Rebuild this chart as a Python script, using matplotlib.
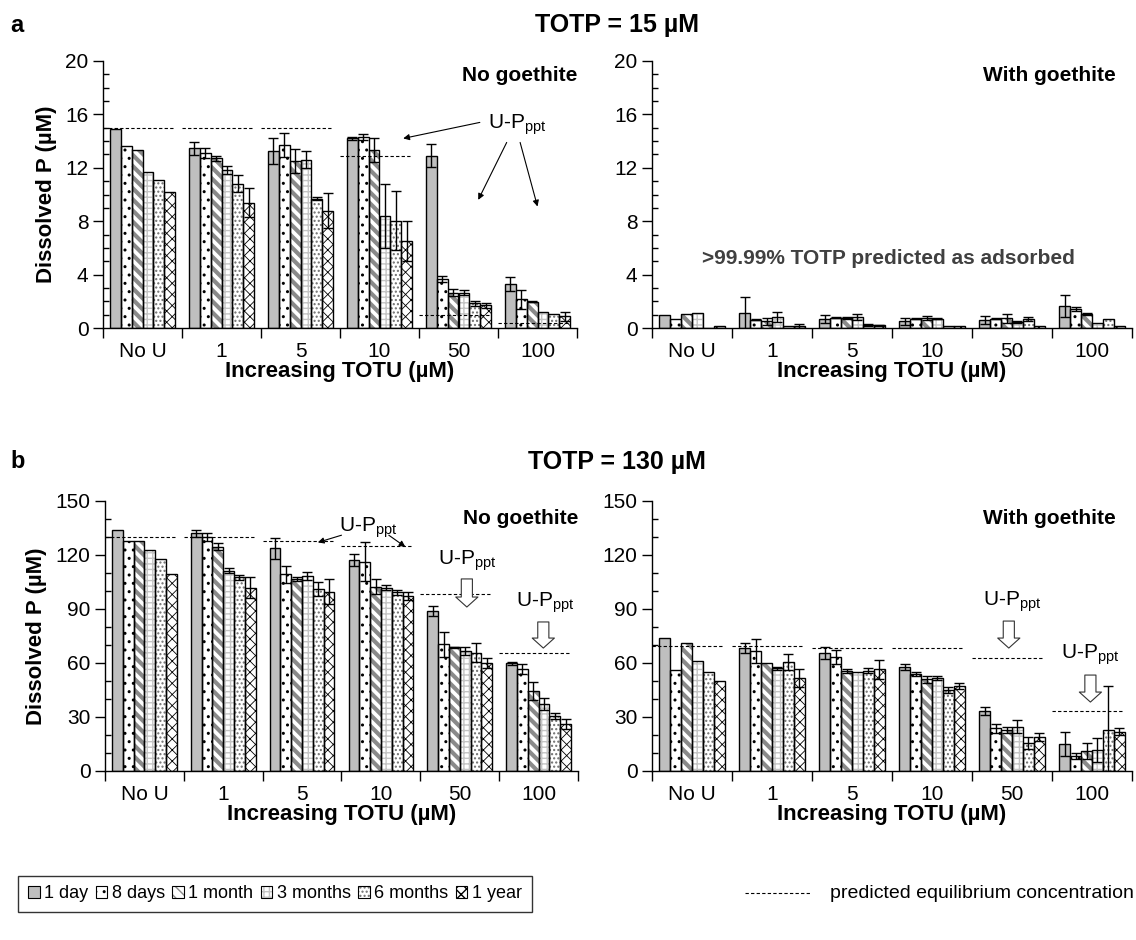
import numpy as np
import matplotlib
matplotlib.use('Agg')
import matplotlib.pyplot as plt
from matplotlib.patches import Patch
from matplotlib.lines import Line2D
from matplotlib.ticker import MultipleLocator
from matplotlib.legend_handler import HandlerTuple

plt.rcParams['font.family'] = ['Liberation Sans', 'DejaVu Sans']
plt.rcParams['mathtext.default'] = 'regular'

groups = ['No U', '1', '5', '10', '50', '100']
series = ['1 day', '8 days', '1 month', '3 months', '6 months', '1 year']

# ---- panel a (TOTP = 15 uM), rows = series, cols = groups ----
a_no_val = [
    [14.9, 13.45, 13.25, 14.2, 12.9, 3.3],
    [13.6, 13.1, 13.7, 14.3, 3.7, 2.15],
    [13.3, 12.7, 12.5, 13.35, 2.65, 1.97],
    [11.7, 11.8, 12.6, 8.4, 2.65, 1.2],
    [11.1, 10.8, 9.7, 8.05, 1.85, 1.05],
    [10.2, 9.4, 8.8, 6.5, 1.7, 0.87]]
a_no_err = [
    [0, 0.5, 0.95, 0.12, 0.85, 0.5],
    [0, 0.38, 0.9, 0.2, 0.22, 0.7],
    [0, 0.2, 0.9, 0.9, 0.25, 0.05],
    [0, 0.3, 0.65, 2.4, 0.2, 0],
    [0, 0.65, 0.12, 2.2, 0.2, 0],
    [0, 1.1, 1.3, 1.5, 0.17, 0.33]]
a_no_eq = [15, 15, 15, 12.9, 0.97, 0.35]

a_with_val = [
    [0.95, 1.1, 0.68, 0.5, 0.6, 1.68],
    [0.68, 0.62, 0.77, 0.7, 0.7, 1.4],
    [1.03, 0.5, 0.75, 0.75, 0.72, 1.05],
    [1.1, 0.82, 0.8, 0.7, 0.45, 0.38],
    [0.02, 0.17, 0.22, 0.15, 0.7, 0.7],
    [0.12, 0.15, 0.2, 0.15, 0.15, 0.12]]
a_with_err = [
    [0, 1.25, 0.33, 0.25, 0.28, 0.82],
    [0, 0.05, 0.03, 0.05, 0.05, 0.15],
    [0, 0.25, 0.1, 0.12, 0.33, 0.05],
    [0, 0.35, 0.22, 0.05, 0.05, 0],
    [0, 0, 0.05, 0, 0.15, 0],
    [0, 0.15, 0.05, 0, 0, 0]]

# ---- panel b (TOTP = 130 uM) ----
b_no_val = [
    [134, 132, 123.7, 117.2, 88.9, 59.8],
    [128, 130, 109.3, 116.3, 70.4, 56.7],
    [128, 124.6, 106.7, 102.4, 68.7, 44.6],
    [122.8, 111.3, 108.5, 101.9, 66.7, 37.2],
    [117.8, 107.6, 101.1, 99.3, 65.7, 30.6],
    [109.3, 101.9, 99.6, 97.4, 59.8, 26.1]]
b_no_err = [
    [0, 2, 6, 3.3, 3, 1],
    [0, 2, 4.8, 11, 7, 2.8],
    [0, 1.9, 1.3, 4, 0.3, 5],
    [0, 1.3, 2.2, 1.5, 2.4, 3.2],
    [0, 1.3, 4, 1.3, 5.2, 1.9],
    [0, 6, 6.9, 2.2, 2.8, 2.8]]
b_no_eq = [130, 130, 128, 125, 98.3, 65.4]

b_with_val = [
    [74.1, 68.1, 65.7, 57.6, 33.3, 14.8],
    [55.9, 66.9, 63.5, 53.9, 23.7, 8.3],
    [71.3, 60.2, 55.7, 50.9, 22.8, 11.1],
    [61.3, 57, 55.2, 51.5, 24.6, 11.7],
    [54.8, 60.4, 55.7, 45, 15.4, 22.6],
    [50, 51.7, 56.5, 47.2, 18.7, 21.9]]
b_with_err = [
    [0, 2.8, 3.3, 1.7, 2, 6.7],
    [0, 6.7, 4, 1.1, 2.4, 1.5],
    [0, 0, 1, 1.9, 1.9, 4.6],
    [0, 1, 0, 1.1, 3.7, 6.5],
    [0, 4.4, 1.3, 1.5, 3.3, 24.6],
    [0, 4.8, 5.2, 1.5, 2.2, 1.9]]
b_with_eq = [69.4, 69.4, 68.5, 68.5, 62.6, 33.4]

# ---- styles ----
styles = [
    dict(fc='#BFBFBF', hc='#BFBFBF', hatch=None, hlw=1.0),
    dict(fc='white', hc='black', hatch='..', hlw=1.0),
    dict(fc='white', hc='#8A8A8A', hatch='\\\\\\', hlw=3.0),
    dict(fc='white', hc='#C4C4C4', hatch='+++', hlw=1.0),
    dict(fc='white', hc='#6E6E6E', hatch='....', hlw=1.0),
    dict(fc='white', hc='black', hatch='xxx', hlw=0.6),
]
BW = 0.137

W, H = 1136, 940
fig = plt.figure(figsize=(W / 100, H / 100), dpi=100)


def ax_px(l, t, r, b):
    return fig.add_axes([l / W, 1 - b / H, (r - l) / W, (b - t) / H])


def setup(ax, ymax, major, minor, ylabel=True):
    ax.set_xlim(-0.5, 5.5)
    ax.set_ylim(0, ymax)
    ax.yaxis.set_major_locator(MultipleLocator(major))
    ax.yaxis.set_minor_locator(MultipleLocator(minor))
    ax.tick_params(axis='y', which='major', direction='out', length=7, width=1, labelsize=15)
    ax.tick_params(axis='y', which='minor', direction='in', length=4, width=1)
    ax.set_xticks(np.arange(-0.5, 6, 1))
    ax.set_xticklabels([])
    ax.tick_params(axis='x', which='major', direction='out', length=7, width=1)
    ax.set_xticks(range(len(groups)), minor=True)
    ax.set_xticklabels(groups, minor=True)
    ax.tick_params(axis='x', which='minor', length=0, labelsize=15, pad=10)
    for s in ['top', 'right']:
        ax.spines[s].set_visible(False)
    for s in ['left', 'bottom']:
        ax.spines[s].set_linewidth(1)
    ax.set_xlabel('Increasing TOTU (µM)', fontsize=16, fontweight='bold', labelpad=0)
    if ylabel:
        ax.set_ylabel('Dissolved P (µM)', fontsize=16, fontweight='bold', labelpad=6)


def draw_bars(ax, vals, errs):
    n = len(series)
    for j in range(n):
        x = np.arange(len(groups)) + (j - (n - 1) / 2) * BW
        st = styles[j]
        with plt.rc_context({'hatch.linewidth': st['hlw']}):
            bars = ax.bar(x, vals[j], BW, color=st['fc'], edgecolor=st['hc'],
                          hatch=st['hatch'], linewidth=0, zorder=2)
        for p in bars.patches:
            if hasattr(p, 'set_hatch_linewidth'):
                p.set_hatch_linewidth(st['hlw'])
        ax.bar(x, vals[j], BW, facecolor='none', edgecolor='black', linewidth=1, zorder=3)
        e = np.array(errs[j], dtype=float)
        v = np.array(vals[j], dtype=float)
        m = e > 0
        ax.errorbar(x[m], v[m], yerr=e[m], fmt='none', ecolor='black',
                    elinewidth=1, capsize=3.5, capthick=1, zorder=4)


def draw_eq(ax, eq):
    for i, yv in enumerate(eq):
        ax.plot([i - 0.5, i + 0.4], [yv, yv], ls=(0, (3, 2)), color='black', lw=0.8, zorder=5)


def block_arrow(ax, x, y0, y1):
    ax.annotate('', xy=(x, y1), xytext=(x, y0),
                arrowprops=dict(arrowstyle='simple,head_length=0.45,head_width=1.0,tail_width=0.5',
                                fc='white', ec='#333333', lw=0.8, mutation_scale=16,
                                shrinkA=0, shrinkB=0), zorder=6)


def thin_arrow(ax, x0, y0, x1, y1):
    ax.annotate('', xy=(x1, y1), xytext=(x0, y0),
                arrowprops=dict(arrowstyle='-|>', color='black', lw=0.8, mutation_scale=9,
                                shrinkA=0, shrinkB=0), zorder=6)


UP = 'U-P$_{ppt}$'

# ---- top-left ----
ax1 = ax_px(103, 61, 577, 328)
setup(ax1, 20, 4, 1)
draw_bars(ax1, a_no_val, a_no_err)
draw_eq(ax1, a_no_eq)
ax1.text(5.5, 18.9, 'No goethite', ha='right', va='center', fontsize=15, fontweight='bold')
ax1.text(4.74, 15.2, UP, ha='center', va='center', fontsize=15)
thin_arrow(ax1, 4.27, 15.4, 3.3, 14.2)
thin_arrow(ax1, 4.61, 13.9, 4.25, 9.6)
thin_arrow(ax1, 4.78, 13.9, 5.0, 9.1)

# ---- top-right ----
ax2 = ax_px(652, 61, 1132, 328)
setup(ax2, 20, 4, 1, ylabel=False)
draw_bars(ax2, a_with_val, a_with_err)
ax2.text(5.3, 18.9, 'With goethite', ha='right', va='center', fontsize=15, fontweight='bold')
ax2.text(2.46, 5.2, '>99.99% TOTP predicted as adsorbed', ha='center', va='center',
         fontsize=15, fontweight='bold', color='#404040')

# ---- bottom-left ----
ax3 = ax_px(105, 501, 578, 771)
setup(ax3, 150, 30, 10)
draw_bars(ax3, b_no_val, b_no_err)
draw_eq(ax3, b_no_eq)
ax3.text(5.5, 140.5, 'No goethite', ha='right', va='center', fontsize=15, fontweight='bold')
ax3.text(2.84, 135, UP, ha='center', va='center', fontsize=15)
thin_arrow(ax3, 2.5, 131, 2.2, 127)
thin_arrow(ax3, 3.1, 131, 3.31, 124.5)
ax3.text(4.1, 117, UP, ha='center', va='center', fontsize=15)
block_arrow(ax3, 4.09, 106.7, 91.1)
ax3.text(5.08, 93.3, UP, ha='center', va='center', fontsize=15)
block_arrow(ax3, 5.06, 82.8, 68.3)

# ---- bottom-right ----
ax4 = ax_px(652, 501, 1132, 771)
setup(ax4, 150, 30, 10, ylabel=False)
draw_bars(ax4, b_with_val, b_with_err)
draw_eq(ax4, b_with_eq)
ax4.text(5.3, 140.5, 'With goethite', ha='right', va='center', fontsize=15, fontweight='bold')
ax4.text(4.0, 93.9, UP, ha='center', va='center', fontsize=15)
block_arrow(ax4, 3.96, 83.3, 68.3)
ax4.text(4.98, 64.4, UP, ha='center', va='center', fontsize=15)
block_arrow(ax4, 4.98, 53.3, 38.3)

# ---- titles ----
fig.text(617 / W, 1 - 25 / H, 'TOTP = 15 µM', ha='center', va='center', fontsize=18, fontweight='bold')
fig.text(10 / W, 1 - 25 / H, 'a', ha='left', va='center', fontsize=17, fontweight='bold')
fig.text(617 / W, 1 - 462 / H, 'TOTP = 130 µM', ha='center', va='center', fontsize=18, fontweight='bold')
fig.text(10 / W, 1 - 462 / H, 'b', ha='left', va='center', fontsize=17, fontweight='bold')

# ---- legend ----
handles = []
for st in styles:
    with plt.rc_context({'hatch.linewidth': st['hlw']}):
        ph = Patch(facecolor=st['fc'], edgecolor=st['hc'], hatch=st['hatch'], linewidth=0)
    if hasattr(ph, 'set_hatch_linewidth'):
        ph.set_hatch_linewidth(st['hlw'])
    po = Patch(facecolor='none', edgecolor='black', linewidth=0.8)
    handles.append((ph, po))
leg = fig.legend(handles, series, loc='center left', bbox_to_anchor=(18 / W, 1 - 894 / H),
                 ncol=6, fontsize=13, frameon=True, fancybox=False, edgecolor='black',
                 handlelength=0.65, handleheight=0.65, handletextpad=0.25, columnspacing=0.4,
                 borderpad=0.55, borderaxespad=0, handler_map={tuple: HandlerTuple(ndivide=1)})
leg.get_frame().set_linewidth(1)

fig.add_artist(Line2D([745 / W, 810 / W], [1 - 893 / H, 1 - 893 / H], transform=fig.transFigure,
                      ls=(0, (3, 2)), color='black', lw=0.8))
fig.text(830 / W, 1 - 893 / H, 'predicted equilibrium concentration', ha='left', va='center', fontsize=14)

fig.savefig('out.png', dpi=100)
